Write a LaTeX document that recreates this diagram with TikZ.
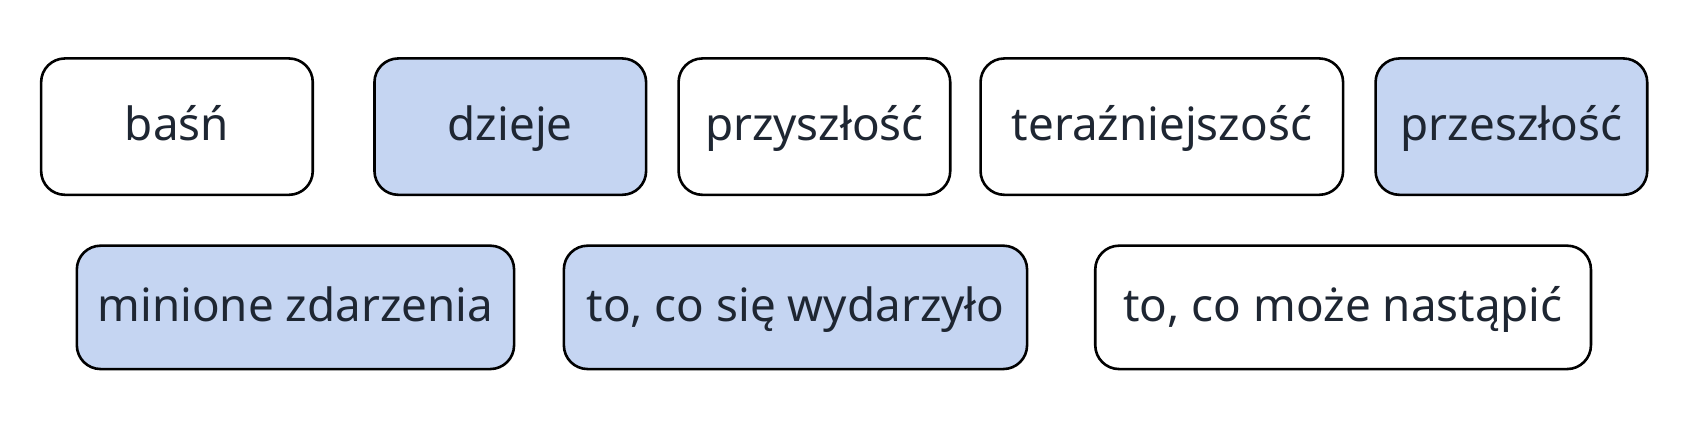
\documentclass[tikz,border=0pt]{standalone}
\usepackage{fontspec}
\setmainfont{Noto Sans}
\definecolor{boxblue}{HTML}{C5D5F2}
\definecolor{txt}{HTML}{1E2632}
\begin{document}
\begin{tikzpicture}[x=1pt,y=-1pt,
  card/.style={draw=black, line width=2.4pt, rounded corners=22pt, inner sep=0pt,
    text=txt, font=\fontsize{42.3}{48}\selectfont, text height=33pt, text depth=7pt},
  blue/.style={card, fill=boxblue},
  white/.style={card, fill=white}]
\useasboundingbox (0,0) rectangle (1568,394);
\node[white, minimum width=251pt, minimum height=126pt] (basn) at (163.5,117) {baśń};
\node[blue, minimum width=251pt, minimum height=126pt] (dzieje) at (471.5,117) {dzieje};
\node[white, minimum width=251pt, minimum height=126pt] (przyszlosc) at (752.5,117) {przyszłość};
\node[white, minimum width=335pt, minimum height=126pt] (terazn) at (1073.5,117) {teraźniejszość};
\node[blue, minimum width=251pt, minimum height=126pt] (przeszlosc) at (1396.5,117) {przeszłość};
\node[blue, minimum width=404pt, minimum height=114pt] (minione) at (273,284) {minione zdarzenia};
\node[blue, minimum width=428pt, minimum height=114pt] (wydarzylo) at (735,284) {to, co się wydarzyło};
\node[white, minimum width=458pt, minimum height=114pt] (nastapic) at (1241,284) {to, co może nastąpić};
\end{tikzpicture}
\end{document}
